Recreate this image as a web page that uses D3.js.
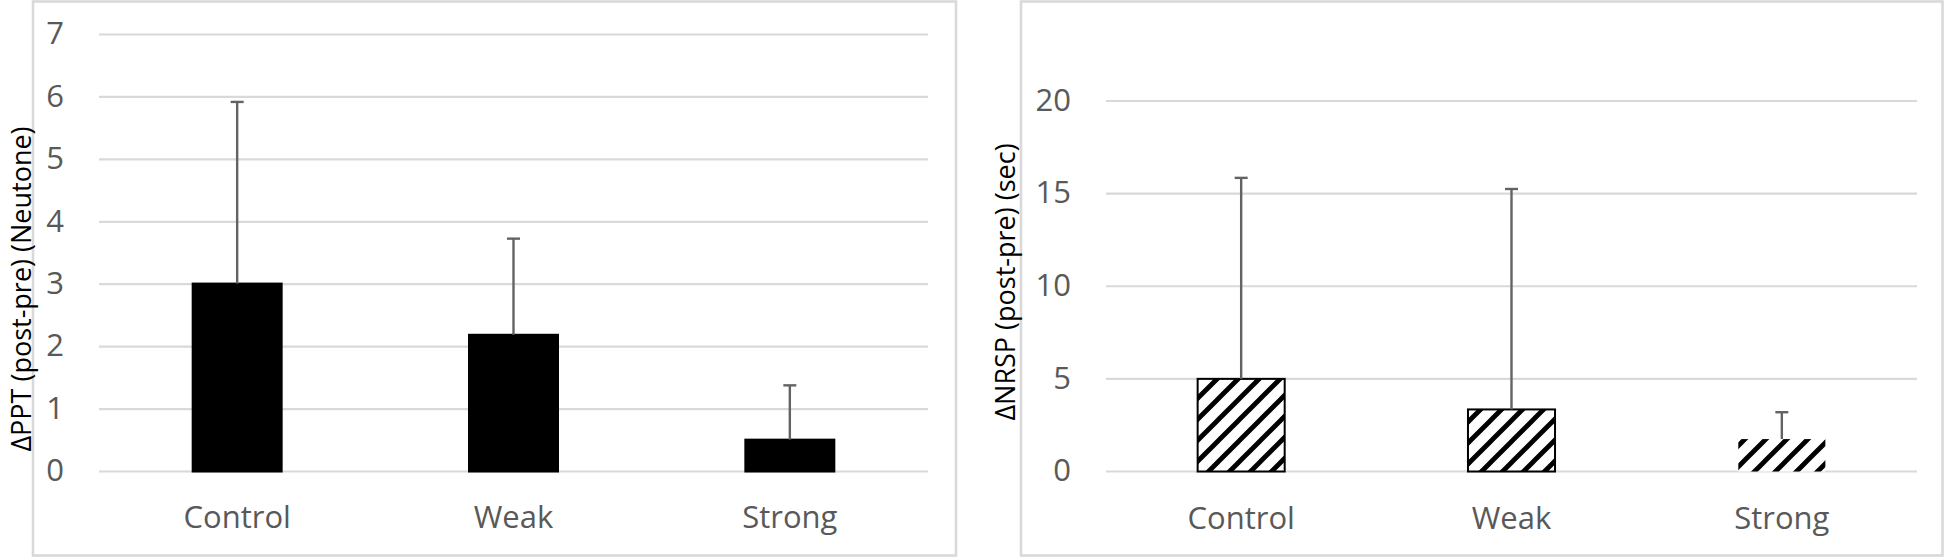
<!DOCTYPE html>
<html>
<head>
<meta charset="utf-8">
<script src="https://cdn.jsdelivr.net/npm/d3@7"></script>
<style>
  html, body { margin: 0; padding: 0; background: #ffffff; }
  svg { display: block; }
  text { font-family: "Open Sans", "Noto Sans", sans-serif; }
</style>
</head>
<body>
<svg id="chart" width="1946" height="558"></svg>
<script>
// ---------- data ----------
const categories = ["Control", "Weak", "Strong"];

const pptMeans = [3.01, 2.19, 0.51];
const pptUpperErr = [2.91, 1.54, 0.87];
const pptTicks = [0, 1, 2, 3, 4, 5, 6, 7];
const pptTitle = "ΔPPT (post-pre) (Neutone)";

const nrspMeans = [5.0, 3.35, 1.75];
const nrspUpperErr = [10.85, 11.9, 1.45];
const nrspTicks = [0, 5, 10, 15, 20];
const nrspTitle = "ΔNRSP (post-pre) (sec)";

// ---------- drawing ----------
const svg = d3.select("#chart");
const W = 1946, H = 558;
svg.append("rect").attr("width", W).attr("height", H).attr("fill", "#fff");

const defs = svg.append("defs");
const P = 21;
const pat = defs.append("pattern")
  .attr("id", "hatch")
  .attr("patternUnits", "userSpaceOnUse")
  .attr("width", P).attr("height", P);
pat.append("rect").attr("width", P).attr("height", P).attr("fill", "#fff");
pat.append("path")
  .attr("d", `M0,${P} L${P},0 M${-P/2},${P/2} L${P/2},${-P/2} M${P/2},${1.5*P} L${1.5*P},${P/2}`)
  .attr("stroke", "#000").attr("stroke-width", 4.8);

const gridColor = "#d9d9d9";
const labelColor = "#595959";
const errColor = "#636363";

function panel(opt) {
  const g = svg.append("g");
  // frame
  g.append("rect")
    .attr("x", opt.frame[0]).attr("y", opt.frame[1])
    .attr("width", opt.frame[2] - opt.frame[0])
    .attr("height", opt.frame[3] - opt.frame[1])
    .attr("fill", "none").attr("stroke", gridColor).attr("stroke-width", 2.6);

  const x = d3.scaleBand().domain(opt.categories).range([opt.left, opt.right]).padding(0);
  const y = d3.scaleLinear().domain([0, opt.max]).range([opt.bottom, opt.top]);

  // gridlines
  g.selectAll("line.grid").data(opt.ticks).enter().append("line")
    .attr("x1", opt.left).attr("x2", opt.right)
    .attr("y1", d => y(d)).attr("y2", d => y(d))
    .attr("stroke", gridColor).attr("stroke-width", 2.2);

  // y axis labels
  const yAxis = d3.axisLeft(y).tickValues(opt.ticks).tickSize(0).tickPadding(0).tickFormat(d3.format("d"));
  const ya = g.append("g").attr("transform", `translate(${opt.tickX},0)`).call(yAxis);
  ya.select(".domain").remove();
  ya.selectAll("text")
    .attr("fill", labelColor).attr("font-size", 31)
    .attr("font-family", '"Open Sans", sans-serif')
    .attr("dy", "0.30em");

  // x axis labels
  const xAxis = d3.axisBottom(x).tickSize(0).tickPadding(0);
  const xa = g.append("g").attr("transform", `translate(0,${opt.catY})`).call(xAxis);
  xa.select(".domain").remove();
  xa.selectAll("text")
    .attr("fill", labelColor).attr("font-size", 31)
    .attr("font-family", '"Open Sans", sans-serif')
    .attr("dy", 0).attr("y", 0);

  const bw = x.bandwidth() * 0.322;
  const rows = opt.categories.map((c, i) => ({ c, i, v: opt.means[i], e: opt.err[i] }));

  // bars
  g.selectAll("rect.bar").data(rows).enter().append("rect")
    .attr("x", d => x(d.c) + x.bandwidth() / 2 - bw / 2)
    .attr("y", d => y(d.v))
    .attr("width", bw)
    .attr("height", d => y(0) - y(d.v))
    .attr("fill", opt.fill)
    .attr("stroke", d => (opt.outline && opt.outline[d.i]) ? "#000" : "none")
    .attr("stroke-width", 2);

  // error bars (upper)
  const eg = g.selectAll("g.err").data(rows).enter().append("g");
  eg.append("line")
    .attr("x1", d => x(d.c) + x.bandwidth() / 2)
    .attr("x2", d => x(d.c) + x.bandwidth() / 2)
    .attr("y1", d => y(d.v))
    .attr("y2", d => y(d.v + d.e))
    .attr("stroke", errColor).attr("stroke-width", 2.4);
  eg.append("line")
    .attr("x1", d => x(d.c) + x.bandwidth() / 2 - 6.5)
    .attr("x2", d => x(d.c) + x.bandwidth() / 2 + 6.5)
    .attr("y1", d => y(d.v + d.e))
    .attr("y2", d => y(d.v + d.e))
    .attr("stroke", errColor).attr("stroke-width", 2.4);

  // y title
  g.append("text")
    .attr("transform", `translate(${opt.titleX},${opt.titleY}) rotate(-90)`)
    .attr("text-anchor", "middle")
    .attr("dominant-baseline", "central")
    .attr("font-size", 27)
    .attr("fill", "#000")
    .text(opt.title);
}

panel({
  frame: [33, 1.5, 956, 555.5],
  left: 99, right: 928, top: 34.5, bottom: 471.5, max: 7,
  tickX: 64, catY: 528,
  categories, means: pptMeans, err: pptUpperErr, ticks: pptTicks,
  fill: "#000", outline: [true, true, true],
  title: pptTitle, titleX: 20, titleY: 289
});

panel({
  frame: [1021, 1.5, 1942.5, 555.5],
  left: 1106, right: 1917, top: 101, bottom: 471.5, max: 20,
  tickX: 1071, catY: 529,
  categories, means: nrspMeans, err: nrspUpperErr, ticks: nrspTicks,
  fill: "url(#hatch)", outline: [true, true, false],
  title: nrspTitle, titleX: 1004, titleY: 282
});
</script>
</body>
</html>
